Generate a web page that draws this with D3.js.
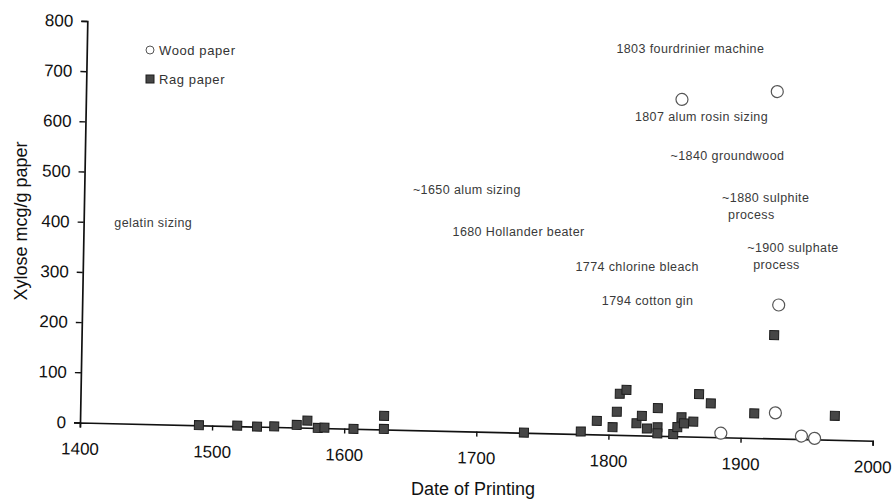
<!DOCTYPE html>
<html>
<head>
<meta charset="utf-8">
<script src="https://cdn.jsdelivr.net/npm/d3@7"></script>
<style>
  body { margin: 0; background: #fff; }
  svg { font-family: "Liberation Sans", Arial, sans-serif; }
</style>
</head>
<body>
<script>
// tick labels
const xTicks = [1400, 1500, 1600, 1700, 1800, 1900, 2000];
const yTicks = [0, 100, 200, 300, 400, 500, 600, 700, 800];

// wood paper (open circles)
const woodYears  = [1851, 1923, 1927, 1926, 1885, 1946, 1956];
const woodXylose = [671, 691, 266, 51, 8, 6, 2];

// rag paper (filled squares)
const ragYears  = [1490, 1519, 1534, 1547, 1564, 1572, 1580, 1585, 1607, 1630, 1630, 1736,
                   1779, 1791, 1803, 1806, 1808, 1813, 1821, 1825, 1829, 1837, 1837, 1837,
                   1849, 1852, 1855, 1857, 1864, 1868, 1877, 1910, 1924, 1971];
const ragXylose = [0, 1, 0, 1, 5, 14, 0, 1, 0, 1, 27, 0,
                   5, 27, 15, 46, 82, 90, 24, 39, 14, 55, 17, 5,
                   4, 18, 38, 26, 30, 85, 67, 49, 206, 48];

// historical notes: label lines, year and level where the label starts
const noteLines  = [["gelatin sizing"], ["~1650 alum sizing"], ["1680 Hollander beater"],
                    ["1774 chlorine bleach"], ["1794 cotton gin"], ["1803 fourdrinier machine"],
                    ["1807 alum rosin sizing"], ["~1840 groundwood"], ["~1880 sulphite", "process"],
                    ["~1900 sulphate", "process"]];
const noteYears  = [1426, 1652, 1682, 1775, 1795, 1806, 1820, 1847, 1886, 1905];
const noteLevels = [390, 455, 372, 301, 234, 736, 600, 523, 440, 339];

const W = 893, H = 500;
const ox = 80, oy = 422.5;

const svg = d3.select("body").append("svg").attr("width", W).attr("height", H);

const x = d3.scaleLinear().domain([1400, 2000]).range([0, 792.7]);
const y = d3.scaleLinear().domain([0, 800]).range([0, -401.5]);

// the printed chart is slightly tilted
const plot = svg.append("g")
  .attr("transform", `translate(${ox},${oy}) matrix(1,0.023,-0.0182,1,0,0)`);

const gx = plot.append("g")
  .call(d3.axisBottom(x).tickValues(xTicks).tickSize(5).tickPadding(15).tickFormat(d3.format("d")));
const gy = plot.append("g")
  .call(d3.axisLeft(y).tickValues(yTicks).tickSize(6).tickPadding(8));

[gx, gy].forEach(g => {
  g.select(".domain").attr("stroke", "#111").attr("stroke-width", 1.7);
  g.selectAll(".tick line").attr("stroke", "#111").attr("stroke-width", 1.4);
  g.selectAll(".tick text").attr("fill", "#111")
    .style("font-size", "17px").style("font-family", "'Liberation Sans', Arial, sans-serif");
});

const rag = ragYears.map((d, i) => ({ yr: d, v: ragXylose[i] }));
const wood = woodYears.map((d, i) => ({ yr: d, v: woodXylose[i] }));

plot.selectAll("rect.rag").data(rag).enter().append("rect")
  .attr("class", "rag")
  .attr("x", d => x(d.yr) - 4.5)
  .attr("y", d => y(d.v) - 4.5)
  .attr("width", 9).attr("height", 9)
  .attr("fill", "#464646").attr("stroke", "#1c1c1c").attr("stroke-width", 1);

plot.selectAll("circle.wood").data(wood).enter().append("circle")
  .attr("class", "wood")
  .attr("cx", d => x(d.yr))
  .attr("cy", d => y(d.v))
  .attr("r", 6)
  .attr("fill", "#fff").attr("stroke", "#555").attr("stroke-width", 1.2);

// notes
const notes = svg.append("g").attr("fill", "#3a3a3a")
  .style("font-size", "12.5px").style("letter-spacing", "0.4px");
noteLines.forEach((lines, i) => {
  const t = notes.append("text")
    .attr("x", ox + x(noteYears[i]))
    .attr("y", oy + y(noteLevels[i]))
    .attr("dy", "0.35em");
  lines.forEach((s, j) => {
    t.append("tspan")
      .attr("x", ox + x(noteYears[i]) + (j ? 6 : 0))
      .attr("dy", j ? "1.35em" : 0)
      .text(s);
  });
});

// legend
const leg = svg.append("g").attr("fill", "#333")
  .style("font-size", "13px").style("letter-spacing", "0.6px");
leg.append("circle").attr("cx", 150).attr("cy", 50).attr("r", 4)
  .attr("fill", "#fff").attr("stroke", "#555").attr("stroke-width", 1);
leg.append("text").attr("x", 159).attr("y", 50).attr("dy", "0.35em").text("Wood paper");
leg.append("rect").attr("x", 146).attr("y", 75).attr("width", 8).attr("height", 8)
  .attr("fill", "#464646").attr("stroke", "#1c1c1c");
leg.append("text").attr("x", 159).attr("y", 79).attr("dy", "0.35em").text("Rag paper");

// axis titles
svg.append("text")
  .attr("x", 473).attr("y", 495)
  .attr("text-anchor", "middle")
  .attr("fill", "#111").style("font-size", "18px")
  .text("Date of Printing");

svg.append("text")
  .attr("transform", "translate(27,221) rotate(-90)")
  .attr("text-anchor", "middle")
  .attr("fill", "#111").style("font-size", "18px")
  .text("Xylose mcg/g paper");
</script>
</body>
</html>
